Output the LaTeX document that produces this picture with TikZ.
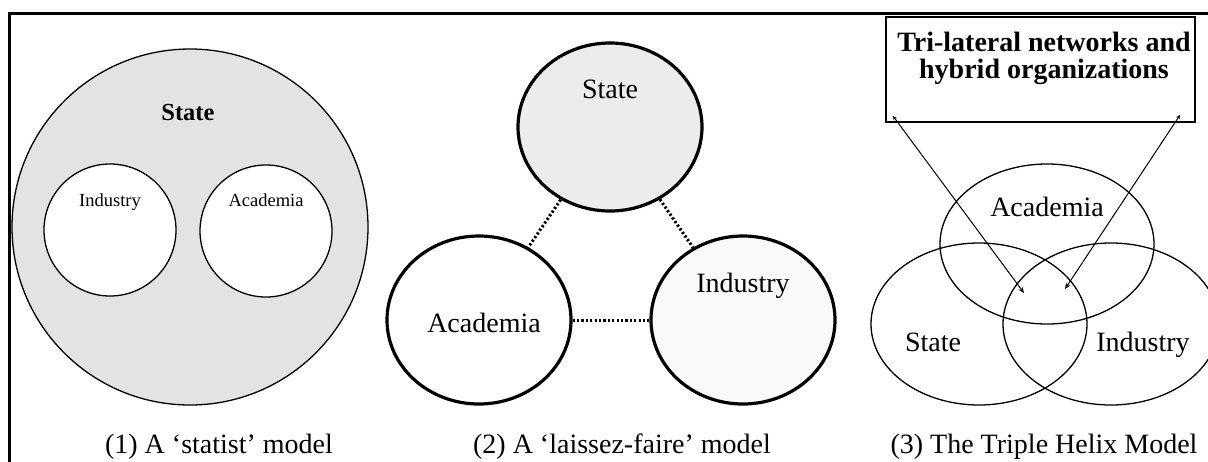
\documentclass[tikz,border=0pt]{standalone}
\usepackage{fontspec}
\setmainfont{Liberation Serif}
\usetikzlibrary{arrows.meta,shapes.geometric}
\tikzset{
    ring/.style={circle, draw, line width=1.3pt, inner sep=0pt}, % thin circles of model (1)
    blob/.style={ellipse, draw, line width=3.2pt, inner sep=0pt, minimum width=184pt, minimum height=168pt}, % thick spheres of model (2)
    venn/.style={ellipse, draw, line width=1.3pt, inner sep=0pt, minimum width=216pt, minimum height=162pt}, % helix spheres of model (3)
    word/.style={anchor=base, inner sep=0pt, font=\fontsize{28}{27}\selectfont},
    small word/.style={anchor=base, inner sep=0pt, font=\fontsize{18.5}{20}\selectfont},
    tie/.style={line width=3pt, dash pattern=on 2.2pt off 2.2pt},
    pointer/.style={line width=1pt, {Stealth[length=4pt, width=4pt]}-{Stealth[length=6pt, width=5pt]}}
}
\begin{document}
\begin{tikzpicture}[x=1pt, y=-1pt]
    \useasboundingbox (0,0) rectangle (1208,461);
    \clip (0,0) rectangle (1208,461);
    \draw[line width=3pt] (9,475) -- (9,13) -- (1215,13);

    % (1) statist model
    \node[ring, minimum size=356pt, fill=gray!22] (state1) at (190,227) {};
    \node[ring, minimum size=132pt, fill=white] (ind1) at (110,230) {};
    \node[ring, minimum size=132pt, fill=white] (acad1) at (266,231) {};
    \node[word, font=\bfseries\fontsize{24.5}{26}\selectfont] (statetxt1) at (188,120) {State};
    \node[small word] (indtxt1) at (110,206) {Industry};
    \node[small word] (acadtxt1) at (266,206) {Academia};

    % (2) laissez-faire model
    \node[blob, fill=gray!15] (state2) at (610,127) {};
    \node[blob] (acad2) at (479,320) {};
    \node[blob, fill=gray!5] (ind2) at (743,320) {};
    \draw[tie] (state2) -- (acad2);
    \draw[tie] (state2) -- (ind2);
    \draw[tie] (acad2) -- (ind2);
    \node[word] (statetxt2) at (610,98) {State};
    \node[word] (acadtxt2) at (484,332) {Academia};
    \node[word] (indtxt2) at (743,292) {Industry};

    % (3) triple helix
    \node[draw, line width=1.3pt, minimum width=309pt, minimum height=105pt, inner sep=0pt] (netbox) at (1040.5,69.5) {};
    \node[align=center, inner sep=0pt, font=\bfseries\fontsize{28}{27}\selectfont] (nettxt) at (1044,58) {Tri-lateral networks and\\hybrid organizations};
    \node[venn, minimum width=214pt, minimum height=160pt] (acad3) at (1047,244) {};
    \node[venn] (state3) at (979,324) {};
    \node[venn] (ind3) at (1111,324) {};
    \node[word] (acadtxt3) at (1047,216) {Academia};
    \node[word] (statetxt3) at (933,351) {State};
    \node[word] (indtxt3) at (1143,351) {Industry};
    \coordinate (boxL) at (893,116);
    \coordinate (boxR) at (1180,115);
    \coordinate (hubL) at (1024,293);
    \coordinate (hubR) at (1065,289);
    \draw[pointer] (boxL) -- (hubL);
    \draw[pointer] (boxR) -- (hubR);

    \foreach \n/\x/\t in {1/219/{(1) A ‘statist’ model}, 2/622/{(2) A ‘laissez-faire’ model}, 3/1044/{(3) The Triple Helix Model}}
        {\node[word] (cap\n) at (\x,453) {\t};}
\end{tikzpicture}
\end{document}
